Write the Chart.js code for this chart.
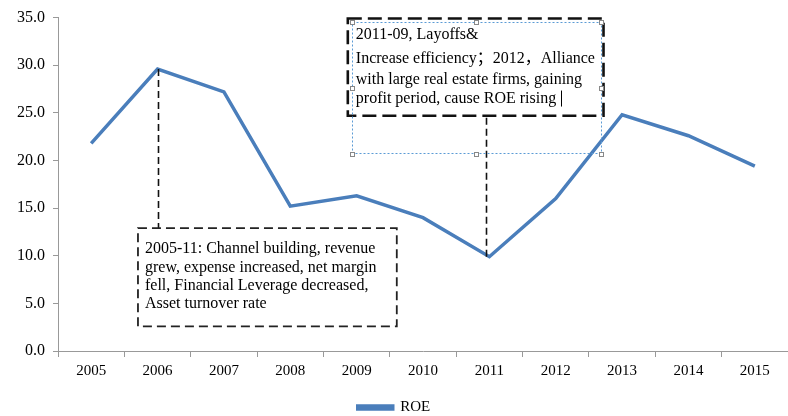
<!DOCTYPE html>
<html>
<head>
<meta charset="utf-8">
<script src="https://cdn.jsdelivr.net/npm/chart.js@4"></script>
<style>
html,body{margin:0;padding:0;background:#fff;}
#wrap{width:788px;height:416px;position:relative;}
</style>
</head>
<body>
<div id="wrap"><canvas id="c" width="788" height="416"></canvas></div>
<script>
const categories = ['2005','2006','2007','2008','2009','2010','2011','2012','2013','2014','2015'];
const roeValues = [21.8, 29.6, 27.2, 15.2, 16.3, 14.0, 9.9, 16.0, 24.8, 22.6, 19.4];
const seriesName = 'ROE';
const yMin = 0, yMax = 35, yStep = 5;
const note2006 = ['2005-11: Channel building, revenue','grew, expense increased, net margin','fell, Financial Leverage decreased,','Asset turnover rate'];
const note2011 = ['2011-09, Layoffs&','Increase efficiency\uFF1B2012\uFF0CAlliance','with large real estate firms, gaining','profit period, cause ROE rising'];

const FONT = '"Liberation Serif","Times New Roman",serif';

const notesPlugin = {
  id: 'notes',
  afterDatasetsDraw(chart) {
    const ctx = chart.ctx;
    const xs = chart.scales.x, ys = chart.scales.y;
    const px = v => xs.left + (v + 0.5) * (xs.right - xs.left) / categories.length;
    const py = v => ys.getPixelForValue(v);
    ctx.save();

    const b1 = {l: px(0.705), r: px(4.605), t: py(12.9), b: py(2.58)};
    const b2 = {l: px(3.867), r: px(7.72), t: py(34.9), b: py(24.7)};
    const b3 = {l: px(3.93), r: px(7.68), t: py(34.5), b: py(20.7)};

    // connectors
    ctx.strokeStyle = '#111';
    ctx.lineWidth = 1.6;
    ctx.setLineDash([7,4]);
    const i06 = 1, i11 = 6;
    ctx.beginPath();
    ctx.moveTo(Math.round(xs.getPixelForValue(i06)) + 0.5, ys.getPixelForValue(roeValues[i06]));
    ctx.lineTo(Math.round(xs.getPixelForValue(i06)) + 0.5, b1.t);
    ctx.stroke();
    ctx.beginPath();
    ctx.moveTo(Math.round(xs.getPixelForValue(i11)) - 2.5, ys.getPixelForValue(roeValues[i11]));
    ctx.lineTo(Math.round(xs.getPixelForValue(i11)) - 2.5, b2.b);
    ctx.stroke();

    // box 1
    ctx.fillStyle = '#fff';
    ctx.fillRect(b1.l, b1.t, b1.r - b1.l, b1.b - b1.t);
    ctx.strokeStyle = '#222';
    ctx.lineWidth = 1.8;
    ctx.setLineDash([9,5]);
    ctx.strokeRect(b1.l, b1.t, b1.r - b1.l, b1.b - b1.t);

    // box 2
    ctx.fillStyle = '#fff';
    ctx.fillRect(b2.l, b2.t, b2.r - b2.l, b2.b - b2.t);
    ctx.strokeStyle = '#111';
    ctx.lineWidth = 2.6;
    ctx.setLineDash([14,6]);
    ctx.strokeRect(b2.l, b2.t, b2.r - b2.l, b2.b - b2.t);

    // selection frame
    ctx.strokeStyle = '#5B9BD5';
    ctx.lineWidth = 1;
    ctx.setLineDash([2,2]);
    ctx.strokeRect(Math.round(b3.l) + 0.5, Math.round(b3.t) + 0.5, Math.round(b3.r - b3.l), Math.round(b3.b - b3.t));
    ctx.setLineDash([]);
    const mx = (b3.l + b3.r) / 2, my = (b3.t + b3.b) / 2;
    const handles = [[b3.l,b3.t],[mx,b3.t],[b3.r,b3.t],[b3.l,my],[b3.r,my],[b3.l,b3.b],[mx,b3.b],[b3.r,b3.b]];
    ctx.strokeStyle = '#888';
    ctx.fillStyle = '#fff';
    handles.forEach(h => {
      const hx = Math.round(h[0]) - 1.5, hy = Math.round(h[1]) - 1.5;
      ctx.fillRect(hx, hy, 4, 4);
      ctx.strokeRect(hx, hy, 4, 4);
    });

    // text
    ctx.fillStyle = '#000';
    ctx.textBaseline = 'middle';
    ctx.textAlign = 'left';
    ctx.font = '16px ' + FONT;
    const off1 = [21, 40, 58, 76];
    note2006.forEach((s, i) => ctx.fillText(s, b1.l + 7, b1.t + off1[i]));
    ctx.font = '16px ' + FONT + ',"Noto Sans CJK SC"';
    const off2 = [16, 40, 61, 80];
    note2011.forEach((s, i) => ctx.fillText(s, b2.l + 8, b2.t + off2[i]));
    const w = ctx.measureText(note2011[3]).width;
    ctx.strokeStyle = '#000';
    ctx.lineWidth = 1;
    const cx = Math.round(b2.l + 8 + w + 5) + 0.5;
    ctx.beginPath();
    ctx.moveTo(cx, b2.t + off2[3] - 8);
    ctx.lineTo(cx, b2.t + off2[3] + 8);
    ctx.stroke();

    ctx.restore();
  }
};

new Chart(document.getElementById('c'), {
  type: 'line',
  data: {
    labels: categories,
    datasets: [{
      label: seriesName,
      data: roeValues,
      borderColor: '#4A7EBB',
      backgroundColor: '#4A7EBB',
      borderWidth: 3.5,
      pointRadius: 0,
      pointHoverRadius: 0,
      tension: 0,
      fill: false
    }]
  },
  options: {
    responsive: false,
    animation: false,
    events: [],
    layout: {padding: {top: 12, right: 0, left: 0, bottom: -9}},
    plugins: {
      tooltip: {enabled: false},
      legend: {
        position: 'bottom',
        labels: {
          font: {family: FONT, size: 15},
          color: '#000',
          boxWidth: 35,
          boxHeight: 3,
          padding: 3
        }
      }
    },
    scales: {
      x: {
        offset: true,
        afterFit(s) { s.height = 46; },
        grid: {display: true, drawOnChartArea: false, drawTicks: true, tickLength: 6, color: '#999', offset: true},
        border: {display: true, color: '#999', width: 1},
        ticks: {font: {family: FONT, size: 15}, color: '#000', padding: 5, maxRotation: 0, autoSkip: false}
      },
      y: {
        min: yMin,
        max: yMax,
        afterFit(s) { s.width = 58; },
        grid: {display: true, drawOnChartArea: false, drawTicks: true, tickLength: 5, color: '#999'},
        border: {display: true, color: '#999', width: 1},
        ticks: {stepSize: yStep, font: {family: FONT, size: 16}, color: '#000', padding: 8,
          callback: v => Number(v).toFixed(1)}
      }
    }
  },
  plugins: [notesPlugin]
});
</script>
</body>
</html>
